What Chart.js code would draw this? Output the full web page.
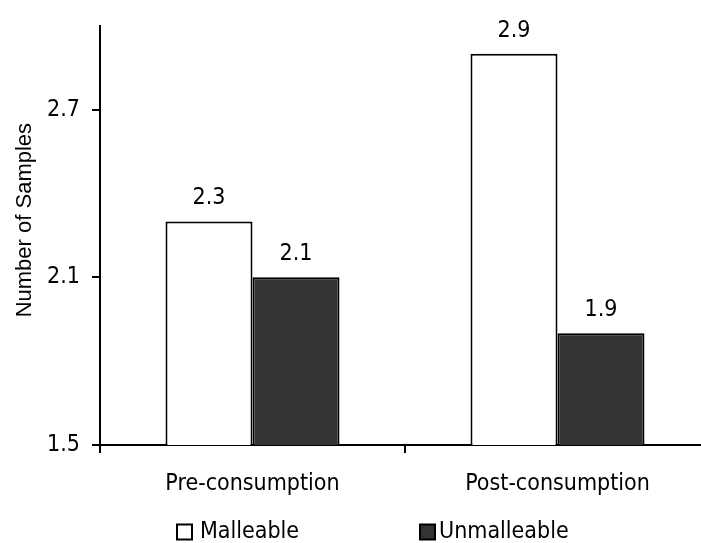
<!DOCTYPE html>
<html><head><meta charset="utf-8">
<script src="https://cdn.jsdelivr.net/npm/chart.js@4/dist/chart.umd.min.js"></script>
<style>
html,body{margin:0;padding:0;background:#fff;overflow:hidden;width:701px;height:543px}
#wrap{width:720px;height:543px;position:relative}
canvas{display:block}
</style></head>
<body><div id="wrap"><canvas id="c" width="720" height="543" style="width:720px;height:543px"></canvas></div>
<script>
const categories = ['Pre-consumption', 'Post-consumption'];
const seriesNames = ['Malleable', 'Unmalleable'];
const malleable = [2.3, 2.9];
const unmalleable = [2.1, 1.9];
const yTicks = [1.5, 2.1, 2.7];
const yTitle = 'Number of Samples';

const FONT = '"DejaVu Sans Condensed", "DejaVu Sans", sans-serif';
const seriesColors = ['#ffffff', '#333333'];

const valueLabels = {
  id: 'valueLabels',
  afterDatasetsDraw(chart) {
    const ctx = chart.ctx;
    ctx.save();
    ctx.font = '23px ' + FONT;
    ctx.fillStyle = '#000';
    ctx.textAlign = 'center';
    ctx.textBaseline = 'alphabetic';
    chart.data.datasets.forEach((ds, i) => {
      chart.getDatasetMeta(i).data.forEach((bar, j) => {
        ctx.fillText(ds.data[j].toFixed(1), bar.x, bar.y - 17);
      });
    });
    ctx.restore();
  }
};

const customLegend = {
  id: 'customLegend',
  afterDraw(chart, args, opts) {
    const ctx = chart.ctx;
    ctx.save();
    ctx.font = '23px ' + FONT;
    ctx.textBaseline = 'middle';
    ctx.textAlign = 'left';
    chart.data.datasets.forEach((ds, i) => {
      const it = opts.items[i];
      const y = opts.y;
      ctx.fillStyle = ds.backgroundColor;
      ctx.fillRect(it.box, y - 7.5, 15, 15);
      ctx.strokeStyle = '#000';
      ctx.lineWidth = 2;
      ctx.strokeRect(it.box, y - 7.5, 15, 15);
      ctx.fillStyle = '#000';
      ctx.fillText(ds.label, it.text, y);
    });
    ctx.restore();
  }
};

new Chart(document.getElementById('c'), {
  type: 'bar',
  data: {
    labels: categories,
    datasets: [
      { label: seriesNames[0], data: malleable, backgroundColor: seriesColors[0], borderColor: '#000', borderWidth: 2,
        categoryPercentage: 0.5705, barPercentage: 1 },
      { label: seriesNames[1], data: unmalleable, backgroundColor: seriesColors[1], borderColor: '#000', borderWidth: 2,
        categoryPercentage: 0.5705, barPercentage: 1 }
    ]
  },
  options: {
    responsive: false,
    animation: false,
    layout: { padding: { top: 25, right: 10, left: 0, bottom: 0 } },
    plugins: {
      legend: { display: false },
      tooltip: { enabled: false },
      customLegend: { y: 532, items: [{ box: 177, text: 200 }, { box: 420, text: 439 }] }
    },
    scales: {
      x: {
        offset: true,
        grid: { display: true, drawOnChartArea: false, drawTicks: true, tickLength: 8, color: '#000', lineWidth: 2, offset: true },
        border: { display: true, color: '#000', width: 2 },
        ticks: { color: '#000', font: { family: FONT, size: 23 }, padding: 17 },
        afterFit: s => { s.height = 98; }
      },
      y: {
        min: 1.5,
        max: 3.0,
        afterBuildTicks: s => { s.ticks = yTicks.map(v => ({ value: v })); },
        grid: { display: true, drawOnChartArea: false, drawTicks: true, tickLength: 8, color: '#000', lineWidth: 2 },
        border: { display: true, color: '#000', width: 2 },
        ticks: { color: '#000', font: { family: FONT, size: 23 }, padding: 12, callback: v => Number(v).toFixed(1) },
        title: { display: true, text: '     ' + yTitle, color: '#000', font: { family: '"Liberation Sans", Arial, sans-serif', size: 22 }, padding: { top: 12, bottom: 0 } },
        afterFit: s => { s.width = 100; }
      }
    }
  },
  plugins: [valueLabels, customLegend]
});
</script>
</body></html>
